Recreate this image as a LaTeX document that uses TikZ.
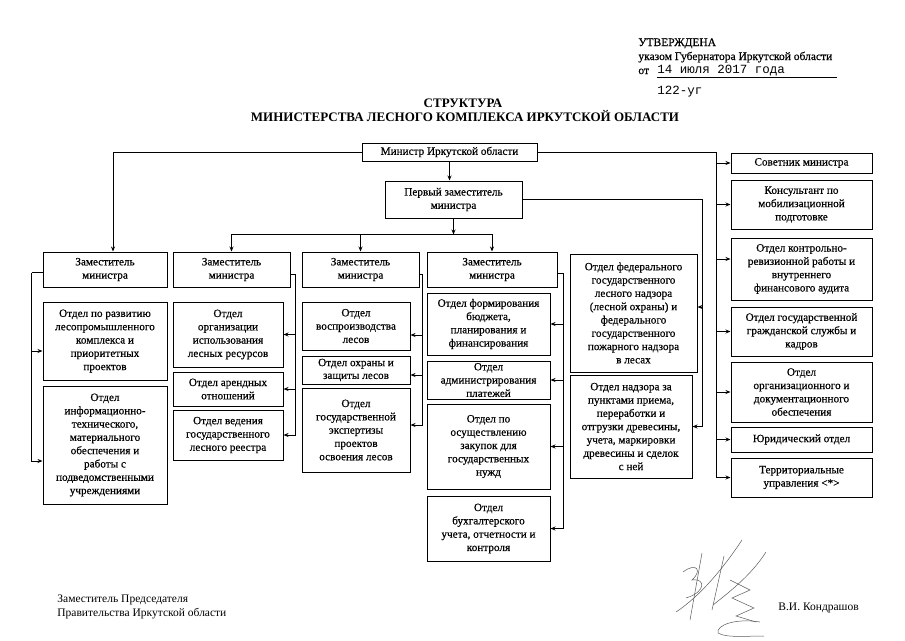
\documentclass[tikz,border=0pt]{standalone}
\usepackage{fontspec}
\setmainfont{Liberation Serif}
\newfontfamily\boxfont[FakeBold=0.5]{Liberation Serif}
\newfontfamily\typew{Liberation Mono}
\usetikzlibrary{arrows.meta,positioning}

\begin{document}
\begin{tikzpicture}[x=1pt, y=-1pt, line width=0.8pt,
  box/.style={draw, line width=1pt, align=center, inner sep=1pt, font=\boxfont\fontsize{11.2}{13.3}\selectfont},
  col1/.style={box, minimum width=124pt},
  col2/.style={box, minimum width=110pt},
  col3/.style={box, minimum width=108pt},
  col4/.style={box, minimum width=123pt},
  dep/.style={box, minimum height=35pt},
  side/.style={box, minimum width=141pt},
  plain/.style={inner sep=0pt, anchor=base west},
  arr/.style={-{Stealth[length=5pt,width=4pt]}},
  sig/.style={line width=0.5pt, gray!70!black}]
\useasboundingbox (0,0) rectangle (905,640);

% approval stamp
\node[plain, font=\boxfont\fontsize{11.5}{13}\selectfont] (appr) at (638,46) {УТВЕРЖДЕНА};
\node[plain, font=\boxfont\fontsize{11.5}{13}\selectfont] (ukaz) at (638,60) {указом Губернатора Иркутской области};
\node[plain, font=\boxfont\fontsize{11.5}{13}\selectfont] (ot) at (638,74) {от};
\node[plain, font=\typew\fontsize{12.5}{13}\selectfont] (date) at (657,73) {14 июля 2017 года};
\node[plain, font=\typew\fontsize{12.5}{13}\selectfont] (num) at (657,94) {122-уг};
\draw[line width=0.6pt] (date.base west) ++(0,-4pt) -- ++(180pt,0);

% title
\node[inner sep=0pt, anchor=base, font=\bfseries\fontsize{13}{15}\selectfont] (t1) at (463,107) {СТРУКТУРА};
\node[inner sep=0pt, anchor=base, font=\bfseries\fontsize{13}{15}\selectfont] (t2) at (465,121) {МИНИСТЕРСТВА ЛЕСНОГО КОМПЛЕКСА ИРКУТСКОЙ ОБЛАСТИ};

% heads
\node[box, minimum width=175pt, minimum height=18pt] (m) at (449.5,152) {Министр Иркутской области};
\node[box, minimum width=137pt, minimum height=37pt] (f) at (453.5,199.5) {Первый заместитель\\министра};
\node[dep, minimum width=124pt] (d1) at (105,269.5) {Заместитель\\министра};
\node[dep, minimum width=117pt] (d2) at (231.5,269.5) {Заместитель\\министра};
\node[dep, minimum width=117pt] (d3) at (360.5,269.5) {Заместитель\\министра};
\node[dep, minimum width=130pt] (d4) at (492,269.5) {Заместитель\\министра};

% first column
\node[col1, minimum height=78pt] (l1) at (105,341) {Отдел по развитию\\лесопромышленного\\комплекса и\\приоритетных\\проектов};
\node[col1, minimum height=118pt, below=5pt of l1] (l2) {Отдел\\информационно-\\технического,\\материального\\обеспечения и\\работы с\\подведомственными\\учреждениями};

% second column
\node[col2, minimum height=65pt] (m1) at (228,334.5) {Отдел\\организации\\использования\\лесных ресурсов};
\node[col2, minimum height=34pt, below=4pt of m1] (m2) {Отдел арендных\\отношений};
\node[col2, minimum height=50pt, below=3pt of m2] (m3) {Отдел ведения\\государственного\\лесного реестра};

% third column
\node[col3, minimum height=48pt] (n1) at (356,326) {Отдел\\воспроизводства\\лесов};
\node[col3, minimum height=28pt, below=5pt of n1, font=\boxfont\fontsize{11.2}{12.8}\selectfont] (n2) {Отдел охраны и\\защиты лесов};
\node[col3, minimum height=84pt, below=3pt of n2] (n3) {Отдел\\государственной\\экспертизы\\проектов\\освоения лесов};

% fourth column
\node[col4, minimum height=62pt] (p1) at (488.5,324) {Отдел формирования\\бюджета,\\планирования и\\финансирования};
\node[col4, minimum height=38pt, below=5pt of p1] (p2) {Отдел\\администрирования\\платежей};
\node[col4, minimum height=85pt, below=4pt of p2] (p3) {Отдел по\\осуществлению\\закупок для\\государственных\\нужд};
\node[col4, minimum height=65pt, below=6pt of p3] (p4) {Отдел\\бухгалтерского\\учета, отчетности и\\контроля};

% federal supervision
\node[box, minimum width=127pt, minimum height=118pt] (f1) at (633.5,313) {Отдел федерального\\государственного\\лесного надзора\\(лесной охраны) и\\федерального\\государственного\\пожарного надзора\\в лесах};
\node[box, minimum width=122pt, minimum height=103pt] (f2) at (631,426.5) {Отдел надзора за\\пунктами приема,\\переработки и\\отгрузки древесины,\\учета, маркировки\\древесины и сделок\\с ней};

% right column
\node[side, minimum height=20pt] (r1) at (801.5,163) {Советник министра};
\node[side, minimum height=49pt, below=6pt of r1] (r2) {Консультант по\\мобилизационной\\подготовке};
\node[side, minimum height=62pt, below=8pt of r2] (r3) {Отдел контрольно-\\ревизионной работы и\\внутреннего\\финансового аудита};
\node[side, minimum height=49pt, below=6pt of r3] (r4) {Отдел государственной\\гражданской службы и\\кадров};
\node[side, minimum height=60pt, below=5pt of r4] (r5) {Отдел\\организационного и\\документационного\\обеспечения};
\node[side, minimum height=25pt, below=4pt of r5] (r6) {Юридический отдел};
\node[side, minimum height=39pt, below=5pt of r6] (r7) {Территориальные\\управления <*>};

% links from the minister
\draw[arr] (m.south) -- (m.south |- f.north);
\draw[arr] (m.west) -| ([xshift=8pt]d1.north);
\path (r1.west) ++(-14pt,0) coordinate (rx);
\draw[arr] (m.east) -| (rx) -- (r1.west);
\draw[arr] (rx) |- (r2.west);
\draw[arr] (rx) |- ([yshift=10pt]r3.west);
\draw[arr] (rx) |- (r4.west);
\draw[arr] (rx) |- (r5.west);
\draw[arr] (rx) |- (r6.west);
\draw[arr] (rx) |- (r7.west);

% links from the first deputy
\coordinate[below=16pt of f.south] (fb);
\draw[arr] (f.south) -- (fb);
\draw[arr] (fb) -| (d2.north);
\draw[arr] (fb) -| (d3.north);
\draw[arr] (fb) -| (d4.north);
\path (f2.east) ++(10pt,0) coordinate (fx);
\draw[arr] (f.east) -| (fx) -- (f2.east);
\draw[arr] ([yshift=6pt]f1.east -| fx) -- ([yshift=6pt]f1.east);

% deputies to departments
\path (d1.west) ++(-11pt,-3pt) coordinate (lx);
\draw ([yshift=-3pt]d1.west) -- (lx);
\draw[arr] (lx) |- ([yshift=-10pt]l1.west);
\draw[arr] (lx) |- ([yshift=-16pt]l2.west);
\path (d2.east) ++(5pt,-5pt) coordinate (mx);
\draw ([yshift=-5pt]d2.east) -- (mx);
\draw[arr] (mx) |- (m1.east);
\draw[arr] (mx) |- (m2.east);
\draw[arr] (mx) |- (m3.east);
\path (d3.east) ++(3pt,-5pt) coordinate (nx);
\draw ([yshift=-5pt]d3.east) -- (nx);
\draw[arr] (nx) |- ([yshift=-9pt]n1.east);
\draw[arr] (nx) |- ([yshift=-5pt]n2.east);
\draw[arr] (nx) |- ([yshift=5pt]n3.east);
\path (d4.east) ++(6pt,-4pt) coordinate (px);
\draw ([yshift=-4pt]d4.east) -- (px);
\draw[arr] (px) |- (p1.east);
\draw[arr] (px) |- (p2.east);
\draw[arr] (px) |- (p3.east);
\draw[arr] (px) |- (p4.east);

% signature block
\node[plain, font=\fontsize{11.5}{13}\selectfont] (s1) at (57,602) {Заместитель Председателя};
\node[plain, font=\fontsize{11.5}{13}\selectfont] (s2) at (57,616) {Правительства Иркутской области};
\node[plain, font=\fontsize{11.5}{13}\selectfont] (s3) at (778,610) {В.И. Кондрашов};
\draw[sig] (683,572) .. controls (696,562) and (703,570) .. (692,580) .. controls (706,578) and (706,592) .. (686,598);
\draw[sig] (702,553) -- (690,620);
\draw[sig] (676,612) .. controls (700,596) and (722,570) .. (742,540);
\draw[sig] (724,556) -- (712,610);
\draw[sig] (713,605) .. controls (732,590) and (752,574) .. (766,552);
\draw[sig] (730,580) -- (750,590) -- (732,598) -- (754,608) -- (736,616) -- (756,622);
\draw[sig] (760,622) .. controls (736,618) and (716,625) .. (718,633) .. controls (726,638) and (746,636) .. (764,636);
\end{tikzpicture}
\end{document}
